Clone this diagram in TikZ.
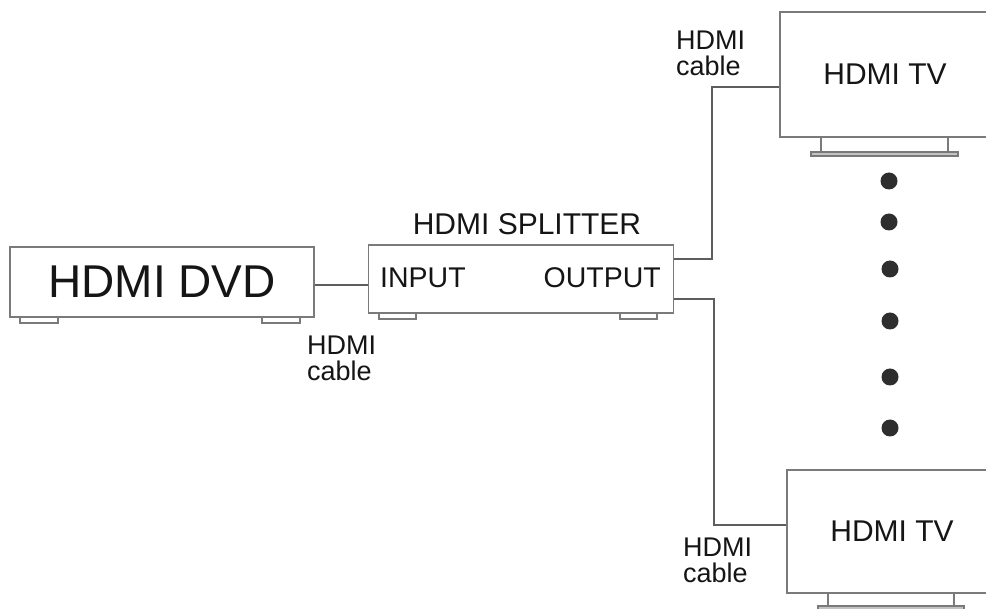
\documentclass[tikz,border=0pt]{standalone}
\usepackage{fontspec}
\setmainfont{Liberation Sans}
\definecolor{boxgray}{HTML}{7A7A7A}
\definecolor{linegray}{HTML}{5E5E5E}
\definecolor{txt}{HTML}{151515}
\definecolor{dotc}{HTML}{2E2E2E}
\begin{document}
\begin{tikzpicture}[x=1pt,y=-1pt,
  box/.style={draw=boxgray, line width=1.8pt, fill=white, inner sep=0pt, rectangle, text=txt},
  foot/.style={draw=boxgray, line width=1.2pt, fill=white},
  plate/.style={draw=boxgray, line width=1.2pt, fill=boxgray!45},
  leg/.style={draw=boxgray, line width=1.6pt},
  cable/.style={draw=linegray, line width=1.6pt},
  lbl/.style={font=\fontsize{27}{26}\selectfont, text=txt, inner sep=0pt, align=left, anchor=north west},
  mid/.style={font=\fontsize{28.5}{28.5}\selectfont, text=txt, inner sep=0pt},
  dot/.style={circle, fill=dotc, minimum size=17pt, inner sep=0pt}]
\useasboundingbox (0,0) rectangle (986,609);
\clip (0,0) rectangle (986,609);
\fill[white] (0,0) rectangle (986,609);

% DVD player
\draw[foot] (20,316) rectangle (58,323);
\draw[foot] (262,316) rectangle (300,323);
\node[box, minimum width=304pt, minimum height=70pt, font=\fontsize{46}{46}\selectfont] (dvd) at (162,282) {HDMI DVD};

% Splitter
\draw[foot] (379,311) rectangle (416,319);
\draw[foot] (620,311) rectangle (657,319);
\node[box, minimum width=305pt, minimum height=68pt] (split) at (521,279) {};
\node[mid, anchor=base west] (inp) at (380,288) {INPUT};
\node[mid, anchor=base east] (outp) at (661,288) {OUTPUT};
\node[mid, font=\fontsize{30}{30}\selectfont, anchor=base] (splt) at (527,235) {HDMI SPLITTER};

% TV top
\draw[leg] (821,136) -- (821,152);
\draw[leg] (948,136) -- (948,152);
\draw[plate] (811,152) rectangle (958,156);
\node[box, minimum width=210pt, minimum height=125pt, font=\fontsize{30}{30}\selectfont] (tv1) at (885,74.5) {HDMI TV};

% TV bottom
\draw[leg] (828,592) -- (828,606);
\draw[leg] (954,592) -- (954,606);
\draw[plate] (818,606) rectangle (964,611);
\node[box, minimum width=210pt, minimum height=123pt, font=\fontsize{30}{30}\selectfont] (tv2) at (892,531.5) {HDMI TV};

% cables
\draw[cable] ([yshift=-3pt]dvd.east) -- ([yshift=-3pt]dvd.east -| split.west);
\coordinate (j1) at (712,87);
\draw[cable] ([yshift=20pt]split.east) -| (j1) -- (j1 -| tv1.west);
\coordinate (j2) at (714,525);
\draw[cable] ([yshift=-20pt]split.east) -| (j2) -- (j2 -| tv2.west);

% labels
\node[lbl] (l1) at (676,31) {HDMI\\cable};
\node[lbl] (l2) at (307,336) {HDMI\\cable};
\node[lbl] (l3) at (683,538) {HDMI\\cable};

% dots
\node[dot] (d1) at (889,181) {};
\node[dot] (d2) at (889,222) {};
\node[dot] (d3) at (890,269) {};
\node[dot] (d4) at (890,321) {};
\node[dot] (d5) at (890,377) {};
\node[dot] (d6) at (890,428) {};
\end{tikzpicture}
\end{document}
